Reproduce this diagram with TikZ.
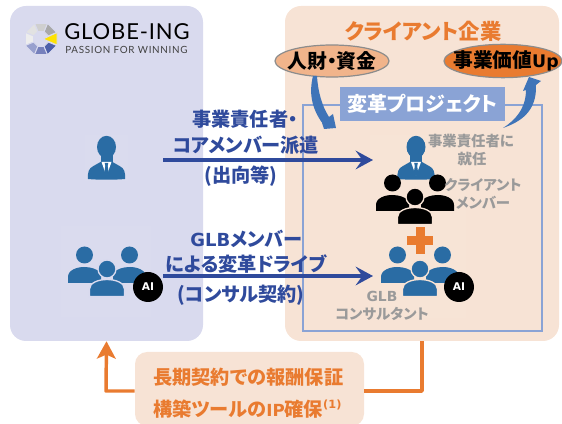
\documentclass[tikz,border=0pt]{standalone}
\usepackage{fontspec}
\setmainfont{Noto Sans CJK JP}[RawFeature=+palt]
\newfontfamily\latf{DejaVu Sans}
\newfontfamily\logof{Lato}
\definecolor{lpanel}{HTML}{D9DAEE}
\definecolor{rpanel}{HTML}{F7E3D5}
\definecolor{orng}{HTML}{E97B30}
\definecolor{navy}{HTML}{2F4A9C}
\definecolor{iconblue}{HTML}{2A6CA4}
\definecolor{framebl}{HTML}{8AA3D5}
\definecolor{curveb}{HTML}{3F74B8}
\definecolor{gtext}{HTML}{9A9A9A}
\newcommand\fs[1]{\fontsize{#1}{#1}\selectfont}
\newcommand\suit[1]{%
 \begin{scope}[shift={#1}]
  \fill[iconblue] (0,0) ellipse (9.5 and 11.2);
  \fill[iconblue] (-6,8) -- (6,8) -- (6,15) -- (-6,15) -- cycle;
  \fill[iconblue] (-18.5,32) .. controls (-19,26) and (-18,21) .. (-13,19) -- (-6,15) -- (6,15) -- (13,19) .. controls (18,21) and (19,26) .. (18.5,32) .. controls (8,33) and (-8,33) .. (-18.5,32) -- cycle;
  \fill[white] (-5,15) -- (5,15) -- (0,29) -- cycle;
  \fill[iconblue] (-1.8,16) -- (1.8,16) -- (1.2,19) -- (2.2,26) -- (0,30) -- (-2.2,26) -- (-1.2,19) -- cycle;
 \end{scope}}
\newcommand\crowd[3]{%
 \begin{scope}[shift={#1}]
  \fill[#2] (-22.5,-14) circle (8.5);
  \fill[#2] (22.5,-14) circle (8.5);
  \fill[#2] (-39,14) -- (-39,8) .. controls (-39,1) and (-30,-2) .. (-23,-2) .. controls (-16,-2) and (-10,0) .. (-6,4) -- (-6,14) -- cycle;
  \fill[#2] (39,14) -- (39,8) .. controls (39,1) and (30,-2) .. (23,-2) .. controls (16,-2) and (10,0) .. (6,4) -- (6,14) -- cycle;
  \filldraw[#2,draw=#3,line width=1pt] (0,0) circle (9);
  \filldraw[#2,draw=#3,line width=1pt] (-17.5,27.5) -- (-17.5,20) .. controls (-17.5,14) and (-9,10.5) .. (0,10.5) .. controls (9,10.5) and (17.5,14) .. (17.5,20) -- (17.5,27.5) -- cycle;
 \end{scope}}
\usetikzlibrary{arrows.meta,shapes.geometric}
\tikzset{
 panel/.style={rectangle,rounded corners=12pt,inner sep=0pt,minimum height=251.25pt},
 navyt/.style={text=navy,font=\bfseries\fs{14.4},inner sep=0pt},
 grayt/.style={text=gtext,font=\bfseries\fs{10.8},inner sep=0pt},
 orgt/.style={text=orng,font=\bfseries\fs{14.4},inner sep=0pt,anchor=west},
 navyarrow/.style={draw=navy,line width=2.4pt,-{Stealth[length=13pt,width=14pt,inset=5pt]}},
 orgline/.style={draw=orng,line width=2.6pt,line join=round},
 aibadge/.style={circle,fill=black,text=white,minimum size=22.5pt,inner sep=0pt,font=\latf\bfseries\fs{8}},
 resource/.style={ellipse,draw=gray!90,line width=.9pt,inner sep=0pt},
 restext/.style={inner sep=0pt,text=black,font=\bfseries\fs{14.8}},
}
\begin{document}
\begin{tikzpicture}[x=.75pt,y=-.75pt]
\useasboundingbox (0,0) rectangle (562,424);
\clip (0,0) rectangle (562,424);
% panels
\node[panel,fill=lpanel,minimum width=144.75pt] (globe) at (106.5,173.5) {};
\node[panel,fill=rpanel,minimum width=205.5pt] (client) at (422,173.5) {};
\fill[white,opacity=.05] (85,135) rectangle (128,181);
\fill[white,opacity=.05] (61,226) rectangle (151,317);
\fill[white,opacity=.04] (370,135) rectangle (466,318);
% logo
\foreach \a/\c in {315/A9A9A9,270/CFCFCF,225/E2E2E2,180/EDEDED,135/98A0CE,90/7680BC,45/4D5FA9}{
 \definecolor{seg}{HTML}{\c}
 \begin{scope}[shift={(41,39)}]
  \filldraw[fill=seg,draw=lpanel,line width=.7pt] (\a-22.5:17) -- (\a+22.5:17) -- (\a+22.5:8) -- (\a-22.5:8) -- cycle;
 \end{scope}}
\filldraw[fill=yellow!85!orange,draw=lpanel,line width=.7pt] (57,32.5) -- (57,45) -- (43,39) -- cycle;
\node[inner sep=0pt,anchor=west,font=\logof\fs{16.5}] (logoname) at (64,31.5) {\addfontfeature{LetterSpace=4}GLOBE-ING};
\node[inner sep=0pt,anchor=west,font=\logof\fs{7.4},text=black!75] (logosub) at (65,49.5) {\addfontfeature{LetterSpace=7}PASSION FOR WINNING};
% project frame
\node[rectangle,draw=framebl,line width=1.6pt,minimum width=179.25pt,minimum height=169.5pt,inner sep=0pt] (frame) at (422.5,218) {};
\node[rectangle,fill=framebl,text=white,minimum width=124pt,minimum height=25.5pt,inner sep=0pt,font=\bfseries\fs{15}] (project) at (422.5,104) {変革プロジェクト};
\node[inner sep=0pt,text=orng,font=\bfseries\fs{16}] (clienttitle) at (423,31) {クライアント企業};
% resource ellipses
\node[resource,fill=orng!45!rpanel,minimum width=85.5pt,minimum height=24pt] (input) at (332,61) {};
\node[restext] (inputt) at (input) {人財・資金};
\node[resource,fill=orng,minimum width=88.5pt,minimum height=25pt] (value) at (503,61) {};
\node[restext] (valuet) at (506,61) {事業価値{\latf\bfseries\fs{13}Up}};
% curved arrows
\fill[curveb] (313,76) .. controls (309,92) and (311,108) .. (323,124) -- (322,123) -- (324,129) -- (336,128) -- (333,114) -- (329,117) .. controls (322,106) and (318,92) .. (317,76) -- cycle;
\fill[curveb] (503,128) .. controls (520,122) and (537,112) .. (536,85) -- (541,81) -- (529,77) -- (523,91) -- (526,90) .. controls (526,104) and (520,117) .. (503,128) -- cycle;
% icons
\suit{(106.5,147)}
\crowd{(107,269)}{iconblue}{lpanel}
\suit{(416,147)}
\crowd{(415,197)}{black}{rpanel}
\fill[orng] (416,227) rectangle (424.5,254);
\fill[orng] (407,236) rectangle (433,245);
\crowd{(420,269)}{iconblue}{rpanel}
\node[aibadge] (aileft) at (148,287) {AI};
\node[aibadge] (airight) at (459,287) {AI};
% navy arrows
\coordinate (aStart) at (163,160);\coordinate (aEnd) at (373,160);
\coordinate (bStart) at (163,276);\coordinate (bEnd) at (373,276);
\draw[navyarrow] (aStart) -- (aEnd);
\draw[navyarrow] (bStart) -- (bEnd);
\node[navyt,anchor=west] (t1) at (192,119) {事業責任者・};
\node[navyt] (t2) at (246,145) {コアメンバー派遣};
\node[navyt] (t3) at (241,176) {(出向等)};
\node[navyt] (t4) at (246.5,239) {{\latf\bfseries\fs{13.5}GLB}メンバー};
\node[navyt] (t5) at (246,264) {による変革ドライブ};
\node[navyt] (t6) at (241,295) {(コンサル契約)};
% gray texts
\node[grayt] (g1) at (471,141) {事業責任者に};
\node[grayt] (g2) at (472,159) {就任};
\node[grayt] (g3) at (483,185) {クライアント};
\node[grayt] (g4) at (483,203) {メンバー};
\node[grayt,font=\latf\bfseries\fs{10.4}] (g5) at (382,296) {GLB};
\node[grayt] (g6) at (382,314) {コンサルタント};
% bottom box
\node[rectangle,rounded corners=9pt,fill=rpanel,minimum width=171.75pt,minimum height=55.5pt,inner sep=0pt] (terms) at (249.5,389) {};
\node[orgt] (o1) at (153,377) {長期契約での報酬保証};
\node[orgt] (o2) at (153,409) {構築ツールの{\latf\bfseries\fs{12.5}IP}確保\raisebox{.4em}{\latf\bfseries\fs{8.5}(1)}};
\coordinate (turnR) at (422,391);
\coordinate (turnL) at (106,391);
\draw[orgline] (client.south -| turnR) -- (turnR) -- (terms.east |- turnR);
\draw[orgline,-{Stealth[length=13pt,width=14pt,inset=3pt]}] (terms.west |- turnL) -- (turnL) -- (globe.south);
\end{tikzpicture}
\end{document}
